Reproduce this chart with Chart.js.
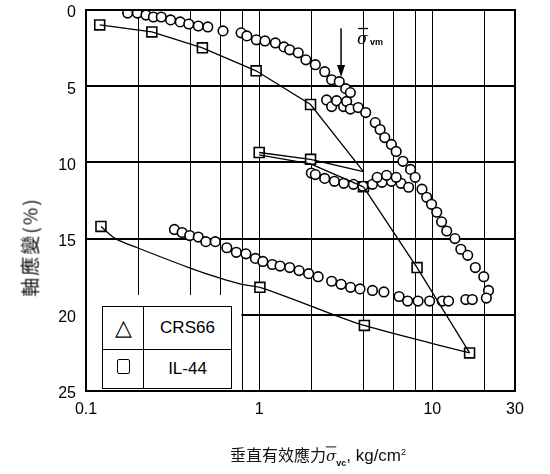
<!DOCTYPE html>
<html>
<head>
<meta charset="utf-8">
<script src="https://cdn.jsdelivr.net/npm/chart.js@4/dist/chart.umd.min.js"></script>
<style>
  html,body{margin:0;padding:0;background:#fff;}
  #wrap{position:relative;width:550px;height:474px;overflow:hidden;}
  #c{position:absolute;left:0;top:0;}
  .ytitle{position:absolute;left:29px;top:247px;transform:translate(-50%,-50%) rotate(-90deg);
    font-family:"Noto Sans CJK TC","Noto Sans CJK SC",sans-serif;font-size:19px;color:#111;white-space:nowrap;letter-spacing:2px;}
  .xtitle{position:absolute;left:318px;top:455px;transform:translate(-50%,-50%);
    font-family:"Noto Sans CJK TC","Noto Sans CJK SC",sans-serif;font-size:16px;color:#111;white-space:nowrap;}
  .xtitle .sig{font-family:"DejaVu Serif",serif;font-style:italic;text-decoration:overline;font-size:15px;}
  .xtitle sub{font-family:"Liberation Sans",sans-serif;font-size:9px;font-weight:bold;}
  .xtitle .en{font-family:"Liberation Sans",sans-serif;font-size:17px;}
  .xtitle sup{font-size:9px;}
  #legend{position:absolute;left:102px;top:306px;width:130px;height:83px;border:1.5px solid #000;
    box-sizing:border-box;background:#fff;font-family:"Liberation Sans",Arial,sans-serif;}
  #legend table{border-collapse:collapse;width:100%;height:100%;}
  #legend td{border:1.5px solid #000;text-align:center;padding:0;}
  #legend tr:first-child td{border-top:none;}
  #legend tr:last-child td{border-bottom:none;}
  #legend td:first-child{border-left:none;width:40px;}
  #legend td:last-child{border-right:none;font-size:17px;}
  .tri{font-size:22px;line-height:1;}
  .sq{display:inline-block;width:11px;height:13px;border:1.5px solid #000;border-radius:2px;}
</style>
</head>
<body>
<div id="wrap">
  <canvas id="c" width="550" height="474"></canvas>
  <div class="ytitle">軸應變(%)</div>
  <div class="xtitle">垂直有效應力<span class="sig">σ</span><sub>vc</sub><span class="en">, kg/cm<sup>2</sup></span></div>
  <div id="legend">
    <table>
      <tr><td><span class="tri">△</span></td><td>CRS66</td></tr>
      <tr><td><span class="sq"></span></td><td>IL-44</td></tr>
    </table>
  </div>
</div>
<script>
// ---------------- data ----------------
// axis ticks
const xGridValues = [0.1, 0.2, 0.4, 0.6, 0.8, 1, 2, 4, 6, 8, 10, 20, 30];
const xTickLabels = [0.1, 1, 10, 30];
const yTickValues = [0, 5, 10, 15, 20, 25];

// CRS66 (circles) - loading branch
const crsLoadX = [0.174,0.198,0.222,0.245,0.272,0.308,0.350,0.392,0.445,0.505,0.618,0.786,0.849,0.963,1.08,1.24,1.39,1.50,1.68,1.86,2.11,2.39,2.62,2.90,3.16,3.36];
const crsLoadY = [0.2,0.2,0.33,0.46,0.46,0.65,0.78,0.92,1.05,1.11,1.37,1.5,1.7,1.96,2.03,2.16,2.42,2.61,2.81,3.27,3.59,4.05,4.58,4.7,5.16,5.42];
// CRS66 - reloading branch after first unloading
const crsReloadX = [2.45,2.62,2.8,3.07,3.2,3.36,3.73,4.12,4.68,4.99,5.31,5.80,6.18,6.76,7.48,7.96,8.71,9.27,9.89,10.6,11.3,12.1,13.5,14.6,16.0,17.7,19.8,21.1,20.5];
const crsReloadY = [5.9,6.34,5.95,6.34,6.0,6.5,6.4,6.73,7.39,7.84,8.37,8.82,9.28,9.93,10.46,10.98,11.76,12.29,12.75,13.27,13.9,14.5,15.0,15.7,16.1,16.9,17.5,18.4,18.9];
// CRS66 - unload / reload loop near 11 %
const crsLoopX = [2.0,2.11,2.39,2.72,3.08,3.50,3.97,4.51,5.12,5.80,6.59,7.29,4.80,5.44,6.18];
const crsLoopY = [10.7,10.8,11.05,11.24,11.37,11.44,11.57,11.44,11.31,11.24,11.37,11.63,10.98,10.85,10.98];
// CRS66 - final unloading branch
const crsUnloadX = [0.324,0.359,0.397,0.445,0.492,0.558,0.650,0.738,0.838,0.951,1.05,1.19,1.32,1.50,1.70,1.93,2.19,2.62,2.97,3.37,3.82,4.51,5.25,6.42,7.20,8.27,9.64,11.4,12.4,15.6,17.0];
const crsUnloadY = [14.4,14.6,14.8,14.9,15.2,15.2,15.6,15.9,16.0,16.3,16.5,16.7,16.8,16.9,17.1,17.3,17.5,17.8,18.0,18.2,18.3,18.4,18.5,18.8,19.1,19.1,19.1,19.1,19.1,19.0,19.0];

// IL-44 (squares) - measured points
const ilSquareX = [0.12,0.24,0.47,0.96,1.98,1.0,1.98,4.0,8.16,16.4,4.05,1.01,0.122];
const ilSquareY = [0.98,1.44,2.48,3.99,6.2,9.35,9.8,11.6,16.9,22.5,20.7,18.2,14.2];
// IL-44 connecting curves
const ilLoadLineX = [0.12,0.24,0.47,0.96,1.98,4.0];
const ilLoadLineY = [0.98,1.44,2.48,3.99,6.2,10.6];
const ilReloadLineAX = [1.0,1.98,4.0];
const ilReloadLineAY = [9.35,9.8,10.6];
const ilReloadLineBX = [1.0,1.98,4.0];
const ilReloadLineBY = [9.5,10.1,11.6];
const ilFinalLineX = [4.0,8.16,16.4];
const ilFinalLineY = [11.6,16.9,22.5];
const ilUnloadLineX = [16.4,4.05,1.86,1.01,0.795,0.595,0.392,0.198,0.148,0.122];
const ilUnloadLineY = [22.5,20.7,19.3,18.2,18.0,17.6,16.9,15.6,15.0,14.2];

// annotation: sigma_vm arrow
const sigmaVmX = 2.97;
const sigmaVmArrowY = [1.2, 4.4];

// ---------------- chart ----------------
const pts = (xs, ys) => xs.map((x, i) => ({x, y: ys[i]}));

const circleStyle = {showLine:false, pointStyle:'circle', pointRadius:4.8, pointBorderWidth:1.6,
  pointBackgroundColor:'#fff', pointBorderColor:'#000', borderColor:'#000'};
const lineStyle = {showLine:true, pointRadius:0, borderColor:'#000', borderWidth:1.3, tension:0};

const datasets = [
  Object.assign({label:'IL-44 load', data: pts(ilLoadLineX, ilLoadLineY)}, lineStyle),
  Object.assign({label:'IL-44 reload A', data: pts(ilReloadLineAX, ilReloadLineAY)}, lineStyle),
  Object.assign({label:'IL-44 reload B', data: pts(ilReloadLineBX, ilReloadLineBY)}, lineStyle),
  Object.assign({label:'IL-44 final', data: pts(ilFinalLineX, ilFinalLineY)}, lineStyle),
  Object.assign({label:'IL-44 unload', data: pts(ilUnloadLineX, ilUnloadLineY)}, lineStyle, {tension:0.3}),
  Object.assign({label:'CRS66 load', data: pts(crsLoadX, crsLoadY)}, circleStyle),
  Object.assign({label:'CRS66 reload', data: pts(crsReloadX, crsReloadY)}, circleStyle),
  Object.assign({label:'CRS66 loop', data: pts(crsLoopX, crsLoopY)}, circleStyle),
  Object.assign({label:'CRS66 unload', data: pts(crsUnloadX, crsUnloadY)}, circleStyle),
  {label:'IL-44', data: pts(ilSquareX, ilSquareY), showLine:false, pointStyle:'rect', pointRadius:7,
   pointBorderWidth:1.6, pointBackgroundColor:'#fff', pointBorderColor:'#000'}
];

// white area under the legend (lower-left part of the plot has no grid there)
const legendCover = {
  id:'legendCover',
  beforeDatasetsDraw(chart){
    const {ctx, scales:{x, y}} = chart;
    const x0 = x.getPixelForValue(0.1) + 1, x1 = x.getPixelForValue(0.8) - 1;
    const y0 = y.getPixelForValue(18.7), y1 = y.getPixelForValue(25) - 1;
    ctx.save(); ctx.fillStyle = '#fff'; ctx.fillRect(x0, y0, x1 - x0, y1 - y0); ctx.restore();
  }
};
const frame = {
  id:'frame',
  afterDatasetsDraw(chart){
    const {ctx, chartArea:a} = chart;
    ctx.save(); ctx.strokeStyle = '#000'; ctx.lineWidth = 2;
    ctx.strokeRect(a.left, a.top, a.right - a.left, a.bottom - a.top); ctx.restore();
  }
};
const sigmaArrow = {
  id:'sigmaArrow',
  afterDatasetsDraw(chart){
    const {ctx, scales:{x, y}} = chart;
    const px = x.getPixelForValue(sigmaVmX);
    const pTop = y.getPixelForValue(sigmaVmArrowY[0]);
    const pBot = y.getPixelForValue(sigmaVmArrowY[1]);
    ctx.save();
    ctx.strokeStyle = '#000'; ctx.fillStyle = '#000'; ctx.lineWidth = 1.5;
    ctx.beginPath(); ctx.moveTo(px, pTop); ctx.lineTo(px, pBot - 8); ctx.stroke();
    ctx.beginPath(); ctx.moveTo(px - 4, pBot - 12); ctx.lineTo(px + 4, pBot - 12); ctx.lineTo(px, pBot); ctx.closePath(); ctx.fill();
    // label  σ̄vm
    const lx = px + 16, ly = y.getPixelForValue(2.2);
    ctx.font = 'italic 16px "DejaVu Serif", serif';
    ctx.textBaseline = 'alphabetic';
    ctx.fillText('σ', lx, ly);
    const w = ctx.measureText('σ').width;
    ctx.lineWidth = 1.3;
    ctx.beginPath(); ctx.moveTo(lx + 1, ly - 15); ctx.lineTo(lx + w, ly - 15); ctx.stroke();
    ctx.font = 'bold 9px "Liberation Sans", Arial, sans-serif';
    ctx.fillText('vm', lx + w + 2, ly + 1);
    ctx.restore();
  }
};

new Chart(document.getElementById('c'), {
  type:'scatter',
  data:{datasets},
  options:{
    responsive:false, animation:false, devicePixelRatio:1,
    layout:{padding:{left:0, right:35, top:10, bottom:0}},
    plugins:{legend:{display:false}, tooltip:{enabled:false}},
    scales:{
      x:{
        type:'logarithmic', min:0.1, max:30,
        afterBuildTicks(scale){ scale.ticks = xGridValues.map(v => ({value:v})); },
        afterFit(scale){ scale.height = 83; scale.paddingLeft = 0; scale.paddingRight = 0; },
        grid:{color:'#000', lineWidth:1, drawTicks:false},
        border:{display:false},
        ticks:{autoSkip:false, maxRotation:0, padding:9, color:'#000',
          font:{family:'"Liberation Sans", Arial, sans-serif', size:16},
          callback(v){ return xTickLabels.includes(v) ? String(v) : ''; }}
      },
      y:{
        type:'linear', reverse:true, min:0, max:25,
        afterBuildTicks(scale){ scale.ticks = yTickValues.map(v => ({value:v})); },
        afterFit(scale){ scale.width = 86; scale.paddingTop = 0; scale.paddingBottom = 0; },
        grid:{color:'#000', lineWidth:2, drawTicks:false},
        border:{display:false},
        ticks:{padding:10, color:'#000', labelOffset:3,
          font:{family:'"Liberation Sans", Arial, sans-serif', size:16}}
      }
    }
  },
  plugins:[legendCover, frame, sigmaArrow]
});
</script>
</body>
</html>
